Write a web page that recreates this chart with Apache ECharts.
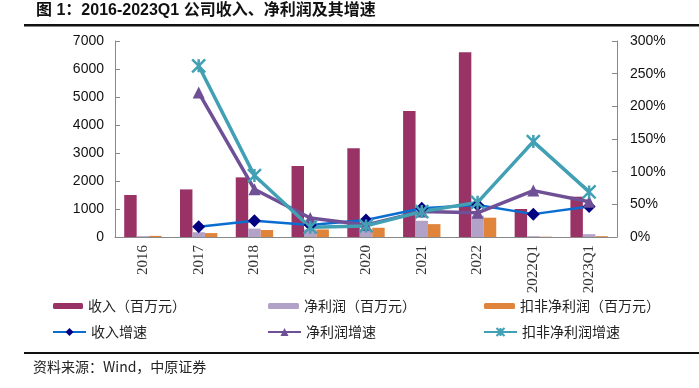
<!DOCTYPE html>
<html><head><meta charset="utf-8">
<script src="https://cdn.jsdelivr.net/npm/echarts@6/dist/echarts.min.js"></script>
<style>html,body{margin:0;padding:0;background:#fff}#c{width:699px;height:388px}</style>
</head><body><div id="c"></div>
<script>
const categories = ['2016','2017','2018','2019','2020','2021','2022','2022Q1','2023Q1'];
const revenue = [1500, 1700, 2130, 2535, 3170, 4500, 6600, 1000, 1440];
const netProfit = [30, 170, 300, 270, 275, 580, 760, 30, 100];
const deductedProfit = [40, 140, 250, 270, 330, 460, 690, 12, 30];
const revenueGrowth = [null, 15.8, 25, 18.5, 26, 44, 49, 35, 46.6];
const netGrowth = [null, 221, 73, 29, 18.5, 39, 37, 71, 54];
const deductedGrowth = [null, 262, 94, 15, 17, 39, 53, 146, 69];
const leftTicks = [0, 7000, 1000];
const rightTicks = [0, 300, 50];

const C_REV = '#993366', C_NP = '#B3A2C7', C_DP = '#E0843C';
const C_RG = '#0A6ED1', C_RGM = '#000080', C_NG = '#6F4F96', C_DG = '#41A0B4';
const CJK = '"Noto Sans CJK SC", sans-serif';
const xSym = 'path://M0,0L10,10M10,0L0,10M5,0L5,10';

const chart = echarts.init(document.getElementById('c'));
function lg(name, left, top, w, h) {
  return {data:[name], left:left, top:top, itemWidth:w, itemHeight:h, itemGap:0, padding:0,
    textStyle:{fontFamily:CJK, fontSize:14, color:'#222', padding:[0,0,0,0]}, selectedMode:false};
}
chart.setOption({
  animation:false,
  grid:{left:115, right:82, top:41, bottom:151, containLabel:false},
  legend:[
    lg('收入（百万元）', 53, 299, 30, 6),
    lg('净利润（百万元）', 268, 299, 31, 6),
    lg('扣非净利润（百万元）', 484, 299, 31, 6),
    lg('收入增速', 52, 325, 33, 10),
    lg('净利润增速', 267, 325, 33, 10),
    lg('扣非净利润增速', 483, 325, 33, 10)
  ],
  xAxis:{type:'category', data:categories,
    axisLine:{lineStyle:{color:'#888', width:1}},
    axisTick:{inside:true, length:5, lineStyle:{color:'#888'}},
    axisLabel:{rotate:90, fontFamily:'"Liberation Serif", serif', fontSize:15, color:'#333', margin:8}},
  yAxis:[
    {type:'value', min:leftTicks[0], max:leftTicks[1], interval:leftTicks[2],
      axisLine:{show:true, lineStyle:{color:'#888'}},
      axisTick:{show:true, inside:true, length:5, lineStyle:{color:'#888'}},
      splitLine:{show:false},
      axisLabel:{fontFamily:'"Liberation Sans", Arial, sans-serif', fontSize:14, color:'#111', margin:11,
        formatter:function(v){return String(v);}}},
    {type:'value', min:rightTicks[0], max:rightTicks[1], interval:rightTicks[2], position:'right',
      axisLine:{show:true, lineStyle:{color:'#888'}},
      axisTick:{show:true, inside:true, length:5, lineStyle:{color:'#888'}},
      splitLine:{show:false},
      axisLabel:{fontFamily:'"Liberation Sans", Arial, sans-serif', fontSize:14, color:'#111', margin:13, formatter:'{value}%'}}
  ],
  series:[
    {name:'收入（百万元）', type:'bar', data:revenue, barGap:'0%', barCategoryGap:'33%', itemStyle:{color:C_REV}},
    {name:'净利润（百万元）', type:'bar', data:netProfit, itemStyle:{color:C_NP}},
    {name:'扣非净利润（百万元）', type:'bar', data:deductedProfit, itemStyle:{color:C_DP}},
    {name:'收入增速', type:'line', yAxisIndex:1, data:revenueGrowth, symbol:'diamond', symbolSize:13,
      lineStyle:{color:C_RG, width:2.5}, itemStyle:{color:C_RGM, borderWidth:0}},
    {name:'净利润增速', type:'line', yAxisIndex:1, data:netGrowth, symbol:'triangle', symbolSize:12,
      lineStyle:{color:C_NG, width:3.5}, itemStyle:{color:C_NG}},
    {name:'扣非净利润增速', type:'line', yAxisIndex:1, data:deductedGrowth, symbol:xSym, symbolSize:13,
      lineStyle:{color:C_DG, width:3.5}, itemStyle:{color:'rgba(0,0,0,0)', borderColor:C_DG, borderWidth:2.5}}
  ],
  graphic:[
    {type:'text', left:36, top:3, style:{text:'图 1：2016-2023Q1 公司收入、净利润及其增速', fontFamily:'"Liberation Sans", '+CJK, fontWeight:'bold', fontSize:16, fill:'#111'}},
    {type:'rect', shape:{x:24, y:24, width:675, height:2.5}, style:{fill:'#111'}},
    {type:'rect', shape:{x:24, y:352, width:675, height:2}, style:{fill:'#111'}},
    {type:'text', left:33, top:360, style:{text:'资料来源：Wind，中原证券', fontFamily:CJK, fontSize:14, fill:'#222'}}
  ]
});
</script></body></html>
